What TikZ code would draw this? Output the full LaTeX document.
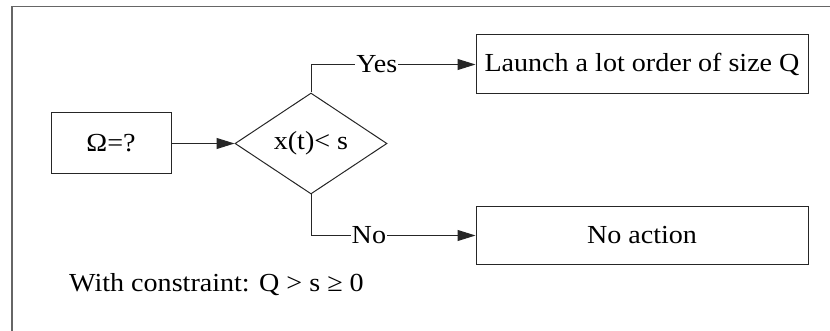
\documentclass[tikz,border=0pt]{standalone}
\usepackage{fontspec}
\setmainfont[FakeStretch=1.08]{Liberation Serif}
\usetikzlibrary{arrows.meta,shapes.geometric}
\begin{document}
\begin{tikzpicture}[x=1pt,y=-1pt,
  every node/.style={font=\fontsize{26}{31}\selectfont},
  box/.style={draw=black!85, line width=1pt, inner sep=0pt},
  arr/.style={draw=black!85, line width=1pt, -{Triangle[length=18pt,width=11pt]}},
  lbl/.style={fill=white, inner sep=1pt},
  frame/.style={draw=black!60, line width=1.6pt}]
  \useasboundingbox (0,0) rectangle (830,331);
  % outer frame, open towards the right and bottom edges
  \draw[frame] (12,331) -- (12,6.5) -- (830,6.5);
  % nodes
  \node[box, minimum width=120pt, minimum height=61pt] (omega) at (111,143.5) {Ω=?};
  \node[box, shape=diamond, minimum width=152pt, minimum height=101pt] (test) at (311,143.5) {x(t)< s};
  \node[box, minimum width=332pt, minimum height=59pt] (yes) at (642,64.5) {Launch a lot order of size Q};
  \node[box, minimum width=332pt, minimum height=57pt] (no) at (642,235.5) {No action};
  \node[anchor=base west, inner sep=0pt] (rule) at (69,291) {With constraint: Q > s ≥ 0};
  % connectors
  \draw[arr] (omega.east) -- (test.west);
  \draw[arr] (test.north) |- node[lbl, pos=0.7] {Yes} (yes.west);
  \draw[arr] (test.south) |- node[lbl, pos=0.676] {No} (no.west);
\end{tikzpicture}
\end{document}
